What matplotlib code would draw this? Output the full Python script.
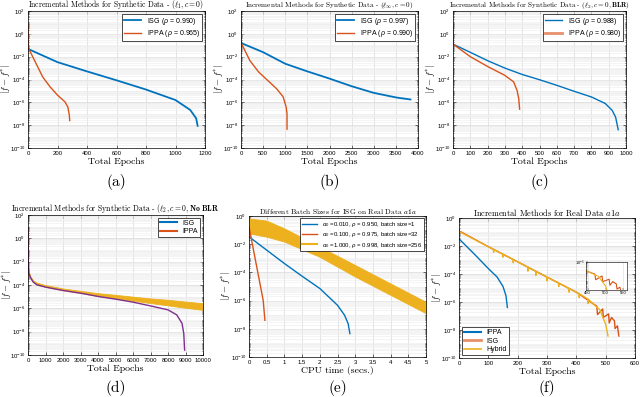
import numpy as np
import matplotlib
matplotlib.use('Agg')
import matplotlib.pyplot as plt
from matplotlib.ticker import LogLocator, NullFormatter, FormatStrFormatter
from matplotlib.lines import Line2D

plt.rcParams['font.family'] = ['Liberation Sans', 'DejaVu Sans']
plt.rcParams['mathtext.fontset'] = 'custom'
plt.rcParams['mathtext.rm'] = 'Liberation Sans'
plt.rcParams['mathtext.it'] = 'Liberation Sans:italic'
plt.rcParams['mathtext.bf'] = 'Liberation Sans:bold'

BLUE = '#0072BD'; ORANGE = '#D95319'; YELLOW = '#EDB120'; PURPLE = '#7E2F8E'

# ---------------- data (y values stored as log10 of |f - f*|) ----------------
# (a)
a_isg_x = [0, 200, 400, 600, 800, 1000, 1100, 1140, 1150]
a_isg_log = [-1.32, -2.48, -3.29, -4.07, -4.88, -5.8, -6.67, -7.4, -8.06]
a_ippa_x = [0, 0, 5, 50, 100, 150, 200, 250, 270, 280, 283]
a_ippa_log = [0.7, -1.25, -1.3, -2.48, -3.78, -4.65, -5.37, -5.95, -6.4, -7.1, -7.6]
# (b)
b_isg_x = [0, 500, 1000, 1500, 2000, 2500, 3000, 3500, 3830]
b_isg_log = [-0.8, -1.61, -2.62, -3.29, -3.92, -4.59, -5.17, -5.57, -5.75]
b_ippa_x = [0, 0, 10, 200, 400, 600, 800, 950, 1020, 1040, 1040]
b_ippa_log = [1.08, -0.8, -0.85, -2.34, -3.35, -4.07, -4.79, -5.5, -6.4, -7.0, -8.35]
# (c)
c_isg_x = [0, 100, 200, 300, 400, 500, 600, 700, 800, 880, 920, 940, 955]
c_isg_log = [-0.9, -1.62, -2.35, -3.0, -3.56, -4.02, -4.51, -5.03, -5.53, -6.1, -6.7, -7.3, -8.4]
c_ippa_x = [0, 0, 5, 100, 200, 300, 350, 370, 380, 385]
c_ippa_log = [0.84, -0.9, -0.95, -2.0, -2.86, -3.64, -4.2, -4.94, -5.66, -6.6]
# (d)
d_purple_x = [0, 10, 50, 150, 300, 500, 1000, 2000, 3000, 4000, 5000, 6000, 7000, 8000, 8500, 8800, 8900, 8950]
d_purple_log = [0.9, -2.3, -3.0, -3.4, -3.75, -3.98, -4.18, -4.47, -4.7, -4.98, -5.21, -5.47, -5.79, -6.13, -6.56, -7.28, -8.14, -9.58]
d_band_x = [0, 10, 50, 150, 300, 500, 1000, 2000, 3000, 4000, 5000, 6000, 7000, 8000, 9000, 10000]
d_band_up = [0.9, -2.2, -2.9, -3.3, -3.6, -3.8, -4.0, -4.3, -4.5, -4.7, -4.84, -5.0, -5.15, -5.27, -5.42, -5.56]
d_band_lo = [0.9, -2.3, -3.0, -3.4, -3.75, -3.98, -4.15, -4.45, -4.68, -4.95, -5.15, -5.35, -5.55, -5.75, -5.95, -6.13]
# (e)
e_b1_x = [0, 0.5, 1, 1.5, 2, 2.5, 2.7, 2.8, 2.85]
e_b1_log = [-1.47, -2.42, -3.37, -4.27, -5.14, -6.33, -7.04, -7.63, -8.34]
e_b32_x = [0, 0.1, 0.2, 0.3, 0.4, 0.45]
e_b32_log = [-0.76, -2.06, -3.37, -4.67, -5.97, -7.4]
e_b256_x = [0, 0.5, 1, 2, 3, 4, 5]
e_b256_up = [-0.17, -0.33, -0.88, -2.18, -3.48, -4.79, -6.09]
e_b256_lo = [-1.23, -1.47, -1.82, -2.9, -4.3, -5.6, -6.9]
# (f)
f_ippa_x = [0, 50, 100, 130, 150, 160, 165]
f_ippa_log = [-1.49, -2.53, -3.61, -4.22, -4.89, -5.54, -6.39]
f_isg_x = [0, 2, 4, 100, 200, 300, 400, 450, 470, 472, 490, 492, 510, 512, 520, 530, 532, 540, 545]
f_isg_log = [-0.8, -1.0, -0.96, -2.05, -3.13, -4.22, -5.3, -6.02, -6.3, -6.9, -6.5, -7.1, -6.85, -7.5, -7.1, -7.35, -7.9, -7.7, -8.43]
f_hyb_x = [0, 100, 117, 118, 119, 149, 150, 151, 184, 185, 186, 200, 234, 235, 236, 261, 262, 263,
           299, 300, 301, 339, 340, 341, 374, 375, 376, 400, 409, 410, 411, 439, 440, 441, 450, 480, 500, 508]
f_hyb_log = [-0.96, -2.05, -2.23, -2.45, -2.25, -2.58, -2.8, -2.6, -2.96, -3.2, -2.98, -3.13, -3.5, -3.8, -3.52,
             -3.79, -4.1, -3.81, -4.2, -4.5, -4.23, -4.64, -4.9, -4.66, -5.02, -5.3, -5.04, -5.3, -5.4, -5.7,
             -5.42, -5.78, -6.1, -5.8, -6.0, -6.55, -7.59, -8.43]

a_labels = [r'ISG ($\rho$ = 0.990)', r'IPPA ($\rho$ = 0.965)']
b_labels = [r'ISG ($\rho$ = 0.997)', r'IPPA ($\rho$ = 0.990)']
c_labels = [r'ISG ($\rho$ = 0.988)', r'IPPA ($\rho$ = 0.980)']
d_labels = ['ISG', 'IPPA']
e_labels = [r'$\alpha_0$ =0.010, $\rho$ = 0.950, batch size=1',
            r'$\alpha_0$ =0.100, $\rho$ = 0.975, batch size=32',
            r'$\alpha_0$ =1.000, $\rho$ = 0.998, batch size=256']
f_labels = ['IPPA', 'ISG', 'Hybrid']


def P(v):
    return 10.0 ** np.asarray(v, dtype=float)


W, H = 640, 397
fig = plt.figure(figsize=(6.4, 3.97), dpi=100)


def add_ax(l, r, t, b):
    return fig.add_axes([l / W, 1 - b / H, (r - l) / W, (b - t) / H])


def style(ax, xlim, xticks, ylim, yticks, title, tfs, xlabel, letter, letter_y, ylab_x):
    ax.set_yscale('log')
    ax.set_xlim(xlim)
    ax.set_xticks(xticks)
    ax.xaxis.set_major_formatter(FormatStrFormatter('%g'))
    ax.set_ylim(ylim)
    ax.set_yticks(yticks)
    ax.yaxis.set_minor_locator(LogLocator(base=10, subs=np.arange(1, 10), numticks=100))
    ax.yaxis.set_minor_formatter(NullFormatter())
    ax.grid(True, which='major', color='#d8d8d8', lw=0.5)
    ax.grid(True, which='minor', axis='y', color='#ececec', lw=0.4)
    ax.set_axisbelow(True)
    ax.tick_params(which='both', direction='in', top=True, right=True, labelsize=4.3,
                   length=2, width=0.4, pad=2)
    ax.tick_params(which='minor', length=1)
    for s in ax.spines.values():
        s.set_linewidth(0.5)
    ax.set_title(title, fontsize=tfs, family='cmr10', math_fontfamily='cm', pad=0.6)
    ax.set_xlabel(xlabel, fontsize=7, family='cmr10', labelpad=1)
    ax.set_ylabel(r'$|f - f^{*}|$', fontsize=6.5, math_fontfamily='cm')
    ax.yaxis.set_label_coords(ylab_x, 0.5)
    pos = ax.get_position()
    fig.text(pos.x0 + pos.width / 2, 1 - letter_y / H, letter, ha='center', va='center',
             fontsize=11, family='cmr10')


def leg(ax, handles, labels, loc, fs=5):
    lg = ax.legend(handles, labels, loc=loc, fontsize=fs, frameon=True, fancybox=False,
                   edgecolor='black', framealpha=1, borderpad=0.3, handlelength=2.5,
                   labelspacing=0.2, borderaxespad=0.4)
    lg.get_frame().set_linewidth(0.5)


yt12 = [1e-10, 1e-8, 1e-6, 1e-4, 1e-2, 1e0, 1e2]
yt10 = [1e-10, 1e-8, 1e-6, 1e-4, 1e-2, 1e0]

# (a)
ax = add_ax(28, 205, 11, 148)
h1, = ax.plot(a_isg_x, P(a_isg_log), color=BLUE, lw=1.3)
h2, = ax.plot(a_ippa_x, P(a_ippa_log), color=ORANGE, lw=1.0)
style(ax, (0, 1200), range(0, 1201, 200), (1e-10, 1e2), yt12,
      r'Incremental Methods for Synthetic Data - $(\ell_1, c = 0)$', 5.5, 'Total Epochs', '(a)', 182, -0.09)
leg(ax, [h1, h2], a_labels, 'upper right')

# (b)
ax = add_ax(241, 418, 11, 148)
h1, = ax.plot(b_isg_x, P(b_isg_log), color=BLUE, lw=1.3)
h2, = ax.plot(b_ippa_x, P(b_ippa_log), color=ORANGE, lw=1.0)
style(ax, (0, 4000), range(0, 4001, 500), (1e-10, 1e2), yt12,
      r'Incremental Methods for Synthetic Data - $(\ell_\infty, c = 0)$', 5.2, 'Total Epochs', '(b)', 182, -0.09)
leg(ax, [h1, h2], b_labels, 'upper right')

# (c)
ax = add_ax(453, 626, 11, 148)
h1, = ax.plot(c_isg_x, P(c_isg_log), color=BLUE, lw=1.0)
h2, = ax.plot(c_ippa_x, P(c_ippa_log), color=ORANGE, lw=1.0)
style(ax, (0, 1000), range(0, 1001, 100), (1e-10, 1e2), yt12,
      r'Incremental Methods for Synthetic Data - $(\ell_2, c = 0, \mathbf{BLR})$', 5.1, 'Total Epochs', '(c)', 182, -0.092)
leg(ax, [Line2D([], [], color=BLUE, lw=1.0), Line2D([], [], color='#E8906A', lw=2.0)], c_labels, 'upper right')

# (d)
ax = add_ax(28, 203, 215, 355)
ax.fill_between(d_band_x, P(d_band_lo), P(d_band_up), color=YELLOW, lw=0.6, edgecolor=YELLOW)
ax.plot(d_purple_x, P(d_purple_log), color=PURPLE, lw=1.0)
style(ax, (0, 10000), range(0, 10001, 1000), (1e-10, 1e2), yt12,
      r'Incremental Methods for Synthetic Data - $(\ell_2, c = 0, \mathbf{No\ BLR}$', 5.6, 'Total Epochs', '(d)', 388, -0.085)
leg(ax, [Line2D([], [], color=BLUE, lw=1.5), Line2D([], [], color=ORANGE, lw=1.5)], d_labels, 'upper right')

# (e)
ax = add_ax(249, 426, 216, 357)
h1, = ax.plot(e_b1_x, P(e_b1_log), color=BLUE, lw=1.0)
h2, = ax.plot(e_b32_x, P(e_b32_log), color=ORANGE, lw=1.0)
ax.fill_between(e_b256_x, P(e_b256_lo), P(e_b256_up), color=YELLOW, lw=0.6, edgecolor=YELLOW)
h3 = Line2D([], [], color=YELLOW, lw=1.5)
style(ax, (0, 5), np.arange(0, 5.01, 0.5), (1e-10, 1e0), yt10,
      r'Different Batch Sizes for ISG on Real Data $a1a$', 5.4, 'CPU time (secs.)', '(e)', 388, -0.096)
leg(ax, [h1, h2, h3], e_labels, 'upper right', fs=4.3)

# (f)
ax = add_ax(459, 635, 218, 358)
h1, = ax.plot(f_ippa_x, P(f_ippa_log), color=BLUE, lw=1.0)
h2, = ax.plot(f_isg_x, P(f_isg_log), color=ORANGE, lw=1.0)
h3, = ax.plot(f_hyb_x, P(f_hyb_log), color=YELLOW, lw=1.0)
style(ax, (0, 600), range(0, 601, 100), (1e-10, 1e0), yt10,
      r'Incremental Methods for Real Data $a1a$', 6.0, 'Total Epochs', '(f)', 388, -0.09)
leg(ax, [Line2D([], [], color=BLUE, lw=1.5), Line2D([], [], color='#E8906A', lw=2.0),
         Line2D([], [], color=YELLOW, lw=1.2)], f_labels, 'lower left')

ins = add_ax(586, 627, 262, 290)
ins.plot(f_isg_x, P(f_isg_log), color=ORANGE, lw=0.8)
ins.plot(f_hyb_x, P(f_hyb_log), color=YELLOW, lw=0.8)
ins.set_yscale('log')
ins.set_xlim(445, 560)
ins.set_ylim(1e-8, 1e-5)
ins.set_xticks([450, 500, 550])
ins.set_yticks([1e-5])
ins.yaxis.set_minor_locator(LogLocator(base=10, subs=np.arange(1, 10), numticks=100))
ins.yaxis.set_minor_formatter(NullFormatter())
ins.grid(True, which='major', color='#d8d8d8', lw=0.4)
ins.tick_params(which='both', direction='in', labelsize=3.0, length=1.2, width=0.3, pad=1)
ins.tick_params(which='minor', length=0.6)
for s in ins.spines.values():
    s.set_linewidth(0.4)
ins.set_facecolor('white')

fig.savefig('out.png', dpi=100)
